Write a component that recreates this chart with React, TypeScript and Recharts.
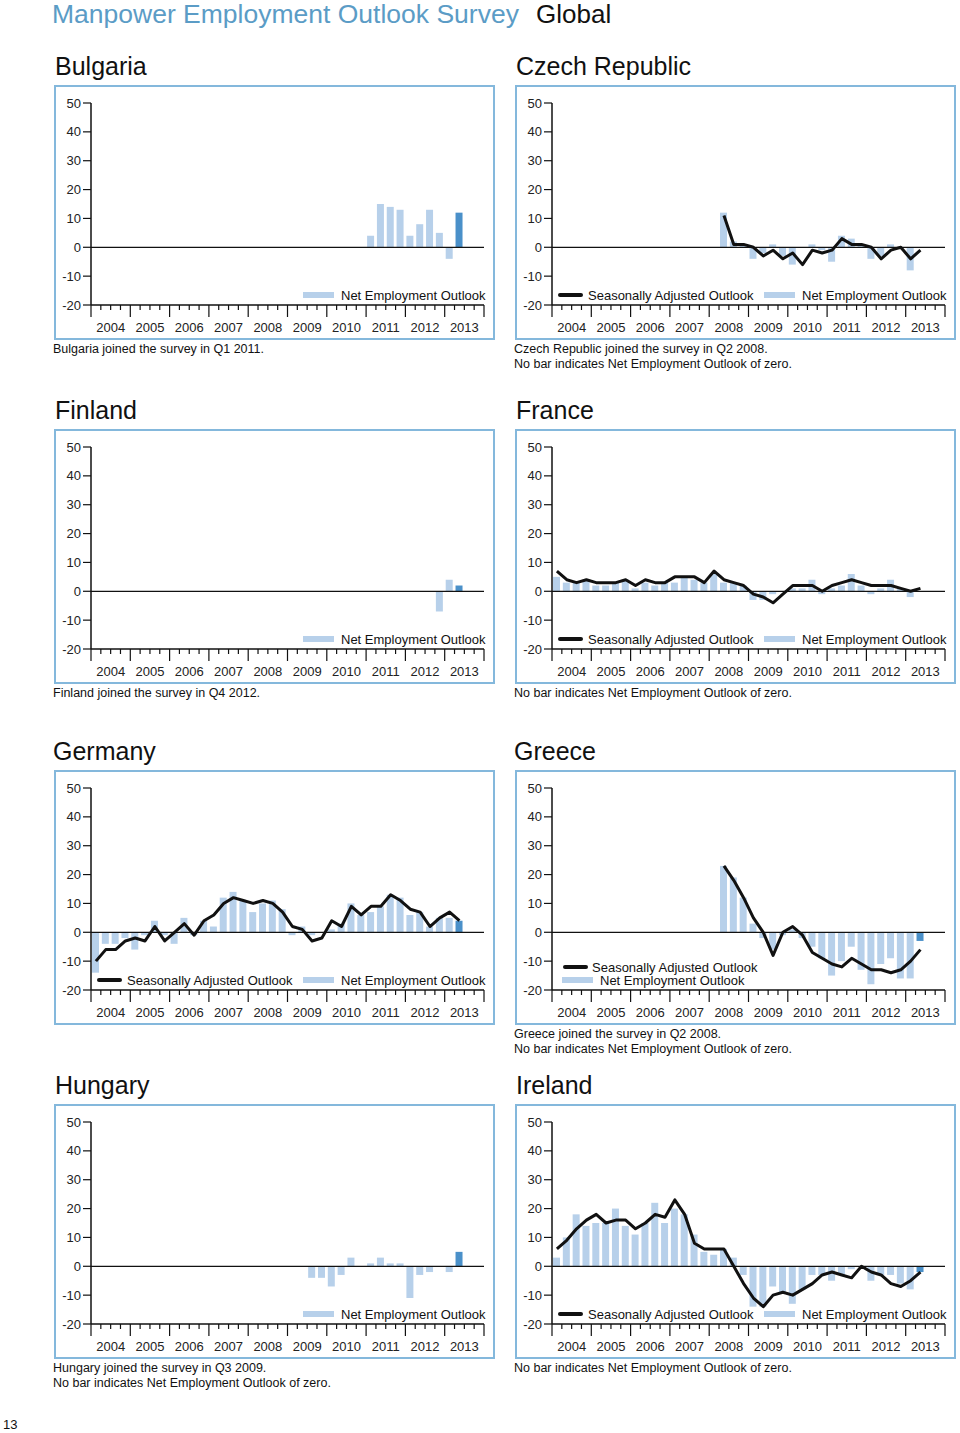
import React from "react";
import { ComposedChart, Bar, Line, XAxis, YAxis, ReferenceLine, Cell } from "recharts";

const FONT = '"Liberation Sans", Arial, Helvetica, sans-serif';
const INK = "#111";
const LIGHT_BAR = "#b7d0ea";
const DARK_BAR = "#4a90c9";
const FRAME = "#84b8dc";
const TITLE_BLUE = "#5b9cc6";

// x axis: quarters 2004 Q1 .. 2013 Q4, data runs to 2013 Q2
const yearLabels = ["2004", "2005", "2006", "2007", "2008", "2009", "2010", "2011", "2012", "2013"];
const quarterTicks = [
  0, 1, 2, 3, 4, 5, 6, 7, 8, 9, 10, 11, 12, 13, 14, 15, 16, 17, 18, 19, 20,
  21, 22, 23, 24, 25, 26, 27, 28, 29, 30, 31, 32, 33, 34, 35, 36, 37, 38, 39, 40,
];
const valueTicks = [-20, -10, 0, 10, 20, 30, 40, 50];

// Net Employment Outlook (bars) and Seasonally Adjusted Outlook (line)
// *Start = index of the first quarter (0 = Q1 2004)
const bulgariaStart = 28;
const bulgariaNeo = [4, 15, 14, 13, 4, 8, 13, 5, -4, 12];

const czechStart = 17;
const czechNeo = [12, 2, 1, -4, -2, 1, -3, -6, 0, 1, -1, -5, 4, 3, 1, -4, -3, 1, 0, -8, 0];
const czechSa = [11, 1, 1, 0, -3, -1, -4, -2, -6, -1, -2, -1, 3, 1, 1, 0, -4, -1, 0, -4, -1];

const finlandStart = 35;
const finlandNeo = [-7, 4, 2];

const franceStart = 0;
const franceNeo = [5, 3, 3, 4, 2, 2, 3, 4, 1, 3, 2, 3, 3, 5, 4, 3, 6, 3, 3, 2, -3, -3, -1, 0, 1, 1, 4, -1, 1, 2, 6, 2, -1, 1, 4, 1, -2, 0];
const franceSa = [7, 4, 3, 4, 3, 3, 3, 4, 2, 4, 3, 3, 5, 5, 5, 3, 7, 4, 3, 2, -1, -2, -4, -1, 2, 2, 2, 0, 2, 3, 4, 3, 2, 2, 2, 1, 0, 1];

const germanyStart = 0;
const germanyNeo = [-14, -4, -4, -2, -6, -1, 4, -1, -4, 5, -1, 4, 2, 12, 14, 11, 7, 10, 11, 8, -1, 2, -1, 0, 1, 3, 10, 6, 7, 9, 13, 12, 6, 7, 2, 5, 5, 4];
const germanySa = [-10, -6, -6, -3, -2, -3, 2, -3, 0, 3, -1, 4, 6, 10, 12, 11, 10, 11, 10, 7, 2, 1, -3, -2, 4, 2, 9, 6, 9, 9, 13, 11, 8, 7, 2, 5, 7, 4];

const greeceStart = 17;
const greeceNeo = [23, 19, 12, 3, -2, -6, -1, 1, -2, -5, -9, -15, -10, -5, -13, -18, -11, -9, -16, -16, -3];
const greeceSa = [23, 18, 12, 5, 0, -8, 0, 2, -1, -7, -9, -11, -12, -9, -11, -13, -13, -14, -13, -10, -6];

const hungaryStart = 22;
const hungaryNeo = [-4, -4, -7, -3, 3, 0, 1, 3, 1, 1, -11, -3, -2, 0, -2, 5];

const irelandStart = 0;
const irelandNeo = [3, 10, 18, 14, 15, 15, 20, 14, 11, 15, 22, 15, 20, 18, 11, 5, 4, 6, 3, -3, -14, -14, -7, -9, -13, -8, -3, -3, -5, -3, -1, 0, -5, -3, -3, -6, -8, -2];
const irelandSa = [6, 9, 13, 16, 18, 15, 16, 16, 13, 15, 18, 17, 23, 18, 8, 6, 6, 6, 0, -6, -11, -14, -10, -9, -10, -8, -6, -3, -2, -3, -4, 0, -2, -3, -6, -7, -5, -2];

const NOTE_ZERO = "No bar indicates Net Employment Outlook of zero.";

interface PanelDef {
  name: string;
  left: number;
  top: number;
  neo: number[];
  start: number;
  sa?: number[];
  legend: "single" | "row" | "stacked";
  notes: string[];
  titleDx?: number;
}

const panels: PanelDef[] = [
  { name: "Bulgaria", left: 54, top: 85, neo: bulgariaNeo, start: bulgariaStart, legend: "single", notes: ["Bulgaria joined the survey in Q1 2011."] },
  { name: "Czech Republic", left: 515, top: 85, neo: czechNeo, start: czechStart, sa: czechSa, legend: "row", notes: ["Czech Republic joined the survey in Q2 2008.", NOTE_ZERO] },
  { name: "Finland", left: 54, top: 429, neo: finlandNeo, start: finlandStart, legend: "single", notes: ["Finland joined the survey in Q4 2012."] },
  { name: "France", left: 515, top: 429, neo: franceNeo, start: franceStart, sa: franceSa, legend: "row", notes: [NOTE_ZERO] },
  { name: "Germany", left: 54, top: 770, neo: germanyNeo, start: germanyStart, sa: germanySa, legend: "row", notes: [], titleDx: -2 },
  { name: "Greece", left: 515, top: 770, neo: greeceNeo, start: greeceStart, sa: greeceSa, legend: "stacked", notes: ["Greece joined the survey in Q2 2008.", NOTE_ZERO], titleDx: -2 },
  { name: "Hungary", left: 54, top: 1104, neo: hungaryNeo, start: hungaryStart, legend: "single", notes: ["Hungary joined the survey in Q3 2009.", NOTE_ZERO] },
  { name: "Ireland", left: 515, top: 1104, neo: irelandNeo, start: irelandStart, sa: irelandSa, legend: "row", notes: [NOTE_ZERO] },
];

function buildRows(p: PanelDef) {
  return quarterTicks.slice(0, 40).map((q) => {
    const k = q - p.start;
    const has = k >= 0 && k < p.neo.length;
    return {
      x: q + 0.5,
      neo: has ? p.neo[k] : null,
      sa: p.sa && has ? p.sa[k] : null,
      last: k === p.neo.length - 1,
    };
  });
}

// text placed by its baseline (Liberation Sans metrics)
const Txt = ({ x, base, size, color = INK, children }: any) => (
  <div
    style={{
      position: "absolute",
      left: x,
      top: base - size * 0.8465,
      fontSize: size,
      lineHeight: `${size}px`,
      color,
      whiteSpace: "nowrap",
    }}
  >
    {children}
  </div>
);

const QuarterTick = ({ x, y, payload }: any) => {
  const v = payload.value;
  const major = v % 4 === 0;
  return (
    <g>
      <line x1={x} x2={x} y1={y} y2={y + (major ? 12 : 5)} stroke={INK} strokeWidth={1.2} />
      {v % 4 === 2 && (
        <text x={x} y={y + 26.5} textAnchor="middle" fontSize={13} fill="#222">
          {yearLabels[(v - 2) / 4]}
        </text>
      )}
    </g>
  );
};

const Swatch = ({ kind }: { kind: "line" | "bar" }) =>
  kind === "line" ? (
    <div style={{ width: 25, height: 4, borderRadius: 2, background: INK }} />
  ) : (
    <div style={{ width: 31, height: 6, background: LIGHT_BAR }} />
  );

const LegendItem = ({ x, cy, kind, label, gap }: any) => (
  <div style={{ position: "absolute", left: x, top: cy - 8, height: 16, display: "flex", alignItems: "center", fontSize: 13, color: INK, whiteSpace: "nowrap" }}>
    <Swatch kind={kind} />
    <span style={{ marginLeft: gap }}>{label}</span>
  </div>
);

function PanelLegend({ layout }: { layout: PanelDef["legend"] }) {
  if (layout === "stacked") {
    return (
      <>
        <LegendItem x={48} cy={196} kind="line" label="Seasonally Adjusted Outlook" gap={4} />
        <LegendItem x={47} cy={209} kind="bar" label="Net Employment Outlook" gap={7} />
      </>
    );
  }
  return (
    <>
      {layout === "row" && <LegendItem x={43} cy={209} kind="line" label="Seasonally Adjusted Outlook" gap={5} />}
      <LegendItem x={249} cy={209} kind="bar" label="Net Employment Outlook" gap={7} />
    </>
  );
}

function Panel({ p }: { p: PanelDef }) {
  const rows = buildRows(p);
  const chartTop = p.top + 1;
  return (
    <>
      <Txt x={p.left + 1 + (p.titleDx || 0)} base={p.top - 10} size={25}>
        {p.name}
      </Txt>
      <div
        style={{
          position: "absolute",
          left: p.left,
          top: p.top,
          width: 441,
          height: 255,
          border: `2px solid ${FRAME}`,
          boxSizing: "border-box",
        }}
      />
      <div style={{ position: "absolute", left: p.left, top: chartTop, width: 440, height: 253 }}>
        <ComposedChart width={440} height={253} data={rows} margin={{ top: 17, right: 10, bottom: 4, left: 0 }}>
          <XAxis
            type="number"
            dataKey="x"
            domain={[0, 40]}
            ticks={quarterTicks}
            interval={0}
            tickSize={0}
            tickMargin={0}
            tickLine={false}
            tick={(props: any) => <QuarterTick {...props} />}
            axisLine={{ stroke: INK, strokeWidth: 1.5 }}
            height={30}
          />
          <YAxis
            type="number"
            domain={[-20, 50]}
            ticks={valueTicks}
            interval={0}
            width={37}
            tickSize={8}
            tickMargin={2}
            axisLine={{ stroke: INK, strokeWidth: 1.5 }}
            tickLine={{ stroke: INK, strokeWidth: 1.2 }}
            tick={{ fill: "#222", fontSize: 13 }}
          />
          <Bar dataKey="neo" barSize={7} isAnimationActive={false}>
            {rows.map((r, i) => (
              <Cell key={i} fill={r.last ? DARK_BAR : LIGHT_BAR} />
            ))}
          </Bar>
          <ReferenceLine y={0} stroke={INK} strokeWidth={1.3} />
          {p.sa && (
            <Line
              type="linear"
              dataKey="sa"
              stroke={INK}
              strokeWidth={3}
              strokeLinejoin="round"
              dot={false}
              activeDot={false}
              connectNulls={false}
              isAnimationActive={false}
            />
          )}
        </ComposedChart>
        <PanelLegend layout={p.legend} />
      </div>
      {p.notes.map((n, i) => (
        <Txt key={i} x={p.left - 1} base={p.top + 268.5 + i * 15.5} size={12.5}>
          {n}
        </Txt>
      ))}
    </>
  );
}

export default function App() {
  return (
    <div
      style={{
        position: "absolute",
        left: 0,
        top: 0,
        width: 960,
        height: 1433,
        overflow: "hidden",
        background: "#fff",
        fontFamily: FONT,
      }}
    >
      <Txt x={52} base={23} size={26.5} color={TITLE_BLUE}>
        Manpower Employment Outlook Survey
      </Txt>
      <Txt x={536} base={23} size={26}>
        Global
      </Txt>
      {panels.map((p) => (
        <Panel key={p.name} p={p} />
      ))}
      <Txt x={3} base={1429} size={13}>
        13
      </Txt>
    </div>
  );
}
